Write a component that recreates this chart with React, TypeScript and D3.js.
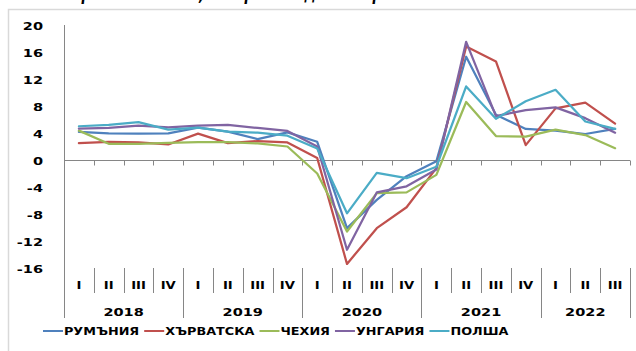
import React, { useEffect, useRef } from "react";
import * as d3 from "d3";

// Quarter categories, grouped by year
const YEARS = ["2018", "2019", "2020", "2021", "2022"];
const QUARTERS_PER_YEAR = [4, 4, 4, 4, 3];
const QUARTER_LABELS = ["I", "II", "III", "IV"];

// Y axis ticks
const Y_TICKS = [20, 16, 12, 8, 4, 0, -4, -8, -12, -16];

// Real GDP growth, %, per quarter
const SERIES_NAMES = ["РУМЪНИЯ", "ХЪРВАТСКА", "ЧЕХИЯ", "УНГАРИЯ", "ПОЛША"];
const ROMANIA = [4.15, 3.95, 3.9, 3.95, 4.8, 4.2, 3.1, 4.1, 2.7, -10.1, -5.9, -2.4, -0.2, 15.3, 6.7, 4.6, 4.35, 3.85, 4.6];
const CROATIA = [2.5, 2.7, 2.6, 2.3, 3.9, 2.5, 2.8, 2.6, 0.3, -15.4, -10.1, -7.0, -1.2, 16.8, 14.6, 2.2, 7.65, 8.5, 5.4];
const CZECHIA = [4.35, 2.4, 2.4, 2.55, 2.65, 2.65, 2.45, 2.0, -2.0, -10.6, -4.9, -4.8, -2.2, 8.6, 3.55, 3.45, 4.5, 3.7, 1.75];
const HUNGARY = [4.65, 4.75, 5.1, 4.85, 5.1, 5.2, 4.75, 4.3, 2.0, -13.3, -4.8, -3.9, -1.4, 17.5, 6.5, 7.4, 7.8, 6.2, 4.05];
const POLAND = [5.0, 5.2, 5.6, 4.5, 4.8, 4.2, 4.05, 3.6, 1.7, -7.9, -1.9, -2.7, -1.0, 10.9, 6.1, 8.7, 10.4, 5.7, 4.6];
const SERIES_VALUES = [ROMANIA, CROATIA, CZECHIA, HUNGARY, POLAND];
const SERIES_COLORS = ["#4F81BD", "#C0504D", "#9BBB59", "#8064A2", "#4BACC6"];

const TITLE = "Реален растеж на БВП, % спрямо година по-рано";

const W = 636;
const H = 351;
const FONT = "'DejaVu Sans', Verdana, sans-serif";
const SX = 1.32; // horizontal stretch applied to labels
const LEGEND_SX = 1.28;
const AXIS = "#868686";

export default function App() {
  const ref = useRef<SVGSVGElement | null>(null);

  useEffect(() => {
    const svg = d3.select(ref.current);
    svg.selectAll("*").remove();

    const categories: { year: string; q: string; idx: number }[] = [];
    YEARS.forEach((yr, yi) => {
      for (let k = 0; k < QUARTERS_PER_YEAR[yi]; k++) {
        categories.push({ year: yr, q: QUARTER_LABELS[k], idx: categories.length });
      }
    });

    const left = 64, right = 630, top = 25, bottom = 268;
    const x = d3.scaleBand<number>().domain(categories.map((c) => c.idx)).range([left, right]);
    const y = d3.scaleLinear().domain([-16, 20]).range([bottom, top]);
    const bw = x.bandwidth();

    // chart frame
    svg.append("rect").attr("x", 8.5).attr("y", 9.5).attr("width", 800).attr("height", 500)
      .attr("fill", "none").attr("stroke", "#d9d9d9").attr("stroke-width", 1.5);

    // heading, running above the top edge
    svg.append("text").attr("x", 20).attr("y", -0.5)
      .attr("font-family", FONT).attr("font-weight", "bold").attr("font-style", "italic")
      .attr("font-size", 17).attr("textLength", 390).attr("lengthAdjust", "spacingAndGlyphs")
      .text(TITLE);

    const stretched = (g: any, tx: number, ty: number, txt: string, size: number, anchor: string, sx = SX) =>
      g.append("text")
        .attr("transform", `translate(${tx},${ty}) scale(${sx},1)`)
        .attr("text-anchor", anchor)
        .attr("font-family", FONT).attr("font-weight", "bold").attr("font-size", size)
        .attr("fill", "#000").text(txt);

    // y axis
    svg.append("line").attr("x1", left + 0.5).attr("x2", left + 0.5).attr("y1", top).attr("y2", 318)
      .attr("stroke", AXIS).attr("stroke-width", 1);
    Y_TICKS.forEach((t) => stretched(svg, 43, y(t) + 4.5, String(t), 11, "end"));

    // zero line with category ticks
    const y0 = Math.round(y(0)) + 0.5;
    svg.append("line").attr("x1", left).attr("x2", right).attr("y1", y0).attr("y2", y0)
      .attr("stroke", AXIS).attr("stroke-width", 1);
    for (let k = 1; k <= categories.length; k++) {
      const bx = Math.round(left + k * bw) + 0.5;
      svg.append("line").attr("x1", bx).attr("x2", bx).attr("y1", y0).attr("y2", y0 + 5)
        .attr("stroke", AXIS).attr("stroke-width", 1);
    }

    // bottom category labels: quarters and year groups
    const yearStarts: number[] = [];
    let acc = 0;
    QUARTERS_PER_YEAR.forEach((n) => { yearStarts.push(acc); acc += n; });
    yearStarts.push(acc);
    for (let k = 1; k <= categories.length; k++) {
      const bx = Math.round(left + k * bw) + 0.5;
      const isYear = yearStarts.includes(k);
      svg.append("line").attr("x1", bx).attr("x2", bx).attr("y1", bottom).attr("y2", isYear ? 318 : 293)
        .attr("stroke", AXIS).attr("stroke-width", 1);
    }
    categories.forEach((c) => stretched(svg, (x(c.idx) as number) + bw / 2, 289, c.q, 10, "middle"));
    YEARS.forEach((yr, yi) => {
      const cx = left + ((yearStarts[yi] + yearStarts[yi + 1]) / 2) * bw;
      stretched(svg, cx, 315.5, yr, 11, "middle");
    });

    // series lines
    const line = d3.line<number>()
      .x((_, i) => (x(i) as number) + bw / 2)
      .y((v) => y(v));
    SERIES_VALUES.forEach((vals, si) => {
      svg.append("path").attr("d", line(vals) as string)
        .attr("fill", "none").attr("stroke", SERIES_COLORS[si]).attr("stroke-width", 2.25)
        .attr("stroke-linejoin", "round").attr("stroke-linecap", "round");
    });

    // legend
    const lg = svg.append("g");
    let lx = 43;
    const ly = 331;
    SERIES_NAMES.forEach((name, si) => {
      lg.append("line").attr("x1", lx).attr("x2", lx + 20).attr("y1", ly).attr("y2", ly)
        .attr("stroke", SERIES_COLORS[si]).attr("stroke-width", 2);
      const t = stretched(lg, lx + 21, ly + 3.8, name, 10, "start", LEGEND_SX);
      const w = (t.node() as SVGTextElement).getComputedTextLength() * LEGEND_SX;
      lx += 21 + w + 5;
    });
  }, []);

  return (
    <svg ref={ref} width={W} height={H}
      style={{ position: "absolute", left: 0, top: 0, background: "#fff" }} />
  );
}
